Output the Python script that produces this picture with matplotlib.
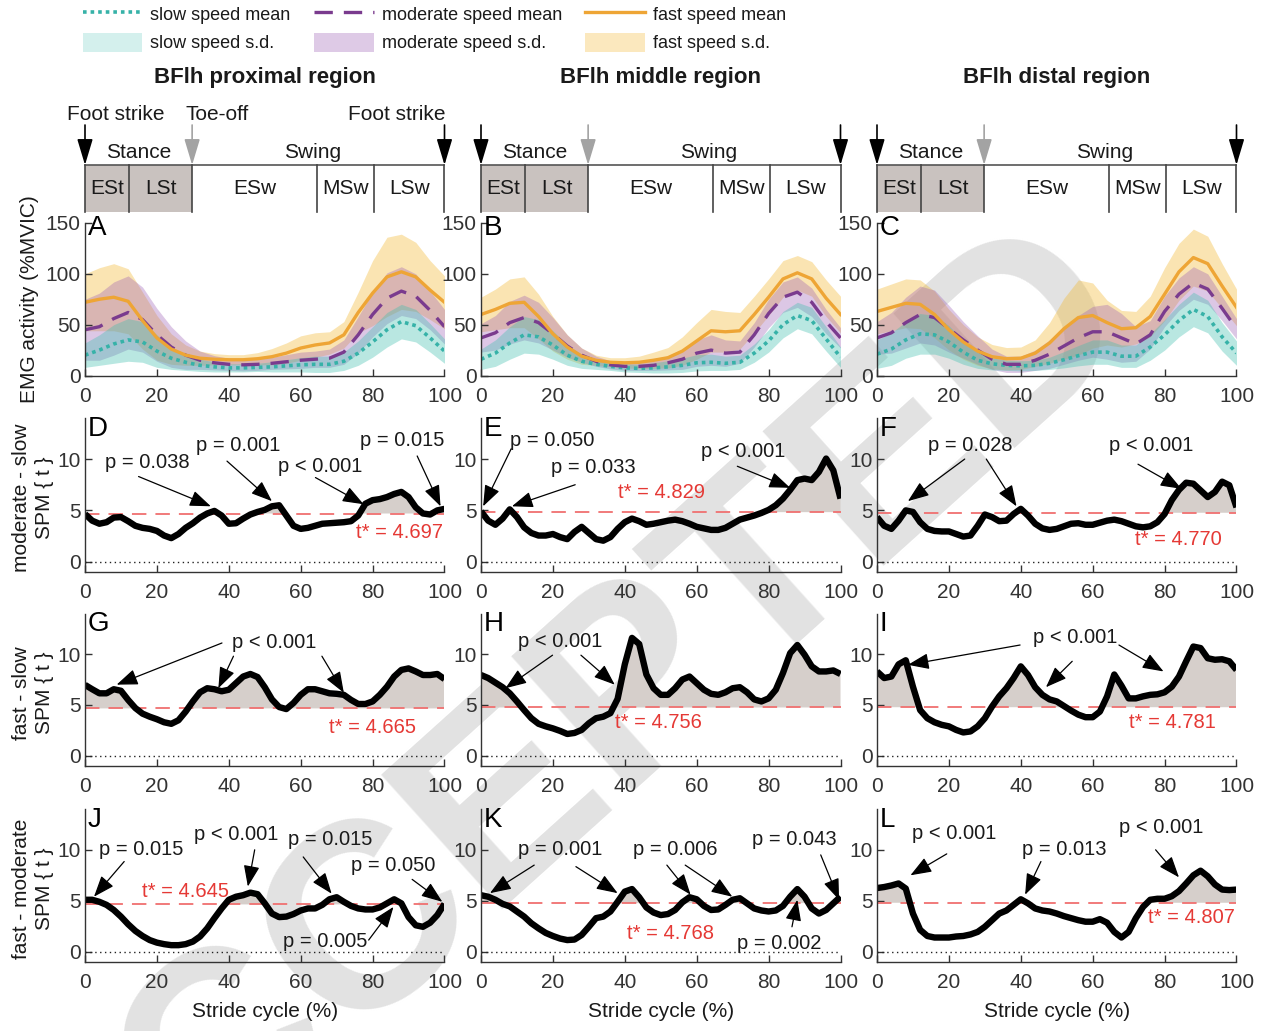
import numpy as np
import matplotlib
matplotlib.use('Agg')
import matplotlib.pyplot as plt
from matplotlib.lines import Line2D
from matplotlib.patches import Patch, Rectangle

plt.rcParams['font.family'] = ['Liberation Sans', 'DejaVu Sans']

# ---------------- data ----------------
regions = ['BFlh proximal region', 'BFlh middle region', 'BFlh distal region']

# gait phases (% stride)
phase_edges = [0, 12.3, 29.8, 64.6, 80.4, 100]
phase_names = ['ESt', 'LSt', 'ESw', 'MSw', 'LSw']
toe_off = 29.8

# EMG (%MVIC), sampled every 4 % of the stride
emg_x = np.arange(0, 101, 4)

slow_mean_prox = [20, 25, 31, 35, 33, 24, 17, 13, 10, 8.5, 7.5, 7.5, 8, 8.5, 9.5, 10.5, 11, 11, 14, 22, 33, 45, 53, 49, 37, 24]
slow_sd_prox = [12, 15, 19, 21, 20, 16, 11, 8, 6, 5, 4, 4, 4, 5, 6, 7, 8, 8, 9, 12, 15, 17, 17, 16, 14, 12]
mod_mean_prox = [45, 48, 56, 62, 55, 40, 28, 20, 15, 12.5, 11, 10.5, 11, 12, 13.5, 15, 16, 17, 23, 40, 60, 76, 83, 78, 64, 48]
mod_sd_prox = [30, 33, 36, 36, 32, 26, 20, 14, 9, 7, 6, 6, 6, 6, 7, 8, 8, 9, 12, 18, 22, 25, 24, 22, 19, 17]
fast_mean_prox = [72, 75, 77, 73, 54, 37, 26, 20, 17, 16, 15.5, 15.5, 16.5, 18.5, 22, 27, 30, 32, 40, 62, 81, 97, 102, 97, 84, 72]
fast_sd_prox = [28, 31, 33, 32, 28, 22, 15, 10, 7, 5.5, 5, 5, 6, 8, 10, 12, 12, 11, 13, 20, 32, 39, 37, 34, 29, 26]

slow_mean_mid = [16, 22, 32, 40, 38, 30, 20, 14, 11, 9, 7.5, 7, 7.5, 8.5, 10, 12.5, 13, 12, 13, 22, 34, 50, 59, 54, 36, 18]
slow_sd_mid = [10, 13, 16, 18, 17, 14, 10, 7, 5, 4, 4, 4, 5, 6, 7, 8, 8, 7, 7, 9, 11, 13, 13, 13, 12, 10]
mod_mean_mid = [37, 42, 52, 57, 52, 41, 29, 20, 14, 10.5, 9, 9, 10, 12.5, 16, 22, 25, 22, 23, 40, 61, 77, 82, 72, 53, 37]
mod_sd_mid = [14, 17, 21, 22, 20, 16, 11, 7, 5, 4, 4, 4, 5, 7, 10, 13, 15, 13, 11, 12, 14, 15, 15, 14, 12, 10]
fast_mean_mid = [60, 65, 71, 72, 58, 41, 28, 19, 15, 13, 12.5, 13, 15, 17.5, 24, 34, 44, 43, 44, 60, 77, 95, 101, 95, 76, 60]
fast_sd_mid = [17, 20, 24, 25, 22, 17, 12, 8, 5, 4.5, 5, 6, 8, 10, 14, 18, 21, 20, 18, 18, 18, 18, 17, 17, 18, 18]

slow_mean_dist = [21, 26, 35, 41, 40, 33, 23, 15, 11.5, 10, 9.5, 10, 12, 15.5, 19.5, 23, 23, 19, 19, 28, 40, 54, 65, 58, 38, 22]
slow_sd_dist = [14, 16, 18, 20, 19, 16, 12, 8, 6, 5, 5, 5, 6, 8, 10, 12, 12, 11, 11, 13, 15, 16, 17, 16, 14, 12]
mod_mean_dist = [37, 42, 52, 60, 57, 46, 35, 25, 16, 11, 11, 15, 21, 29, 37, 43, 43, 37, 31, 40, 63, 80, 91, 85, 66, 46]
mod_sd_dist = [16, 20, 25, 28, 27, 23, 18, 14, 10, 8, 8, 10, 14, 18, 22, 25, 27, 24, 17, 14, 15, 16, 16, 15, 12, 10]
fast_mean_dist = [63, 67, 71, 70, 60, 45, 33, 24, 18.5, 16.5, 17, 22, 32, 46, 57, 59, 52, 46, 47, 58, 80, 102, 116, 110, 88, 67]
fast_sd_dist = [22, 23, 24, 24, 23, 20, 17, 14, 12, 11, 11, 13, 20, 30, 37, 32, 22, 18, 16, 20, 26, 28, 28, 27, 22, 18]

emg = [
    {'slow': (slow_mean_prox, slow_sd_prox), 'moderate': (mod_mean_prox, mod_sd_prox), 'fast': (fast_mean_prox, fast_sd_prox)},
    {'slow': (slow_mean_mid, slow_sd_mid), 'moderate': (mod_mean_mid, mod_sd_mid), 'fast': (fast_mean_mid, fast_sd_mid)},
    {'slow': (slow_mean_dist, slow_sd_dist), 'moderate': (mod_mean_dist, mod_sd_dist), 'fast': (fast_mean_dist, fast_sd_dist)},
]

# SPM{t} curves, sampled every 2 % of the stride
spm_x = np.arange(0, 101, 2)

spm_D = [4.65, 4.0, 3.7, 3.85, 4.3, 4.35, 3.95, 3.5, 3.3, 3.2, 3.0, 2.55, 2.3, 2.7, 3.3, 3.75, 4.3, 4.7, 4.95, 4.5, 3.7, 3.75, 4.2, 4.6, 4.85, 5.05, 5.4, 5.5, 4.5, 3.5, 3.2, 3.3, 3.5, 3.7, 3.75, 3.8, 3.85, 3.95, 4.5, 5.65, 6.0, 6.1, 6.3, 6.6, 6.8, 6.3, 5.3, 4.7, 4.6, 5.0, 5.15]
spm_E = [4.9, 4.0, 3.6, 4.2, 5.1, 4.35, 3.35, 2.8, 2.55, 2.55, 2.7, 2.4, 2.2, 2.9, 3.4, 2.8, 2.2, 2.05, 2.4, 3.2, 3.85, 4.2, 3.95, 3.6, 3.7, 3.85, 4.0, 4.1, 3.95, 3.7, 3.4, 3.25, 3.1, 3.1, 3.3, 3.7, 4.1, 4.3, 4.5, 4.75, 5.05, 5.5, 6.15, 7.0, 7.95, 8.1, 7.95, 8.75, 10.05, 8.9, 6.15]
spm_F = [4.35, 3.5, 3.2, 4.0, 5.0, 4.85, 3.85, 3.2, 3.0, 2.95, 2.95, 2.7, 2.45, 2.55, 3.5, 4.6, 4.35, 3.95, 4.0, 4.65, 5.15, 4.5, 3.7, 3.25, 3.1, 3.2, 3.45, 3.7, 3.75, 3.6, 3.6, 3.8, 4.0, 4.1, 3.95, 3.7, 3.45, 3.35, 3.45, 3.85, 4.65, 6.0, 7.0, 7.7, 7.6, 6.95, 6.3, 6.8, 7.8, 7.45, 5.3]
spm_G = [6.98, 6.55, 6.15, 6.15, 6.55, 6.4, 5.5, 4.7, 4.15, 3.85, 3.6, 3.3, 3.15, 3.5, 4.35, 5.35, 6.25, 6.65, 6.55, 6.35, 6.5, 7.15, 7.8, 8.05, 7.75, 6.75, 5.55, 4.8, 4.6, 5.2, 6.0, 6.55, 6.55, 6.35, 6.15, 6.1, 6.0, 5.5, 5.1, 5.1, 5.35, 6.0, 6.8, 7.8, 8.45, 8.6, 8.3, 7.95, 7.95, 8.05, 7.55]
spm_H = [7.95, 7.65, 7.2, 6.75, 6.15, 5.35, 4.5, 3.7, 3.15, 2.9, 2.7, 2.45, 2.15, 2.25, 2.55, 3.2, 3.7, 3.85, 4.2, 5.6, 9.0, 11.6, 11.0, 8.0, 6.65, 6.0, 6.0, 6.65, 7.5, 7.8, 7.15, 6.5, 6.1, 6.0, 6.25, 6.65, 6.75, 6.25, 5.55, 5.35, 5.65, 6.5, 8.15, 10.1, 10.9, 9.95, 8.8, 8.3, 8.3, 8.4, 8.05]
spm_I = [8.3, 7.65, 7.8, 9.0, 9.4, 6.8, 4.5, 3.7, 3.3, 3.05, 2.9, 2.55, 2.3, 2.4, 2.9, 3.7, 4.85, 5.85, 6.65, 7.65, 8.8, 7.95, 6.75, 6.0, 5.55, 5.35, 4.9, 4.45, 4.05, 3.8, 3.8, 4.35, 5.85, 8.0, 6.9, 5.65, 5.65, 5.85, 6.0, 6.05, 6.25, 6.8, 7.8, 9.3, 10.75, 10.6, 9.6, 9.45, 9.5, 9.3, 8.45]
spm_J = [5.1, 5.1, 4.9, 4.6, 4.1, 3.45, 2.7, 2.05, 1.55, 1.15, 0.9, 0.75, 0.65, 0.65, 0.75, 1.0, 1.5, 2.3, 3.3, 4.25, 5.1, 5.4, 5.55, 5.8, 5.65, 4.75, 3.75, 3.4, 3.45, 3.7, 4.05, 4.25, 4.25, 4.6, 5.15, 5.35, 4.9, 4.5, 4.25, 4.15, 4.15, 4.35, 4.75, 5.15, 4.75, 3.4, 2.6, 2.45, 2.85, 3.6, 4.7]
spm_K = [5.55, 5.4, 5.1, 4.7, 4.45, 3.95, 3.45, 2.8, 2.3, 1.85, 1.55, 1.3, 1.15, 1.2, 1.65, 2.45, 3.3, 3.45, 3.95, 4.9, 5.9, 6.15, 5.35, 4.35, 3.85, 3.6, 3.7, 4.1, 4.85, 5.35, 5.15, 4.5, 4.1, 4.15, 4.6, 5.1, 5.25, 4.75, 4.25, 4.05, 3.95, 4.05, 4.5, 5.4, 6.15, 5.4, 4.25, 3.75, 4.1, 4.75, 5.4]
spm_L = [6.25, 6.35, 6.5, 6.7, 6.2, 3.75, 2.15, 1.55, 1.4, 1.4, 1.4, 1.5, 1.55, 1.7, 1.95, 2.45, 3.1, 3.75, 4.05, 4.6, 5.15, 4.75, 4.25, 4.05, 3.95, 3.75, 3.5, 3.3, 3.1, 2.95, 2.95, 3.2, 2.85, 1.95, 1.4, 1.95, 3.3, 4.4, 5.1, 5.2, 5.2, 5.45, 5.95, 6.7, 7.5, 7.95, 7.4, 6.6, 6.1, 6.05, 6.1]

spm_curves = [[spm_D, spm_E, spm_F], [spm_G, spm_H, spm_I], [spm_J, spm_K, spm_L]]
t_crit = [[4.697, 4.829, 4.770], [4.665, 4.756, 4.781], [4.645, 4.768, 4.807]]
contrasts = ['moderate - slow', 'fast - slow', 'fast - moderate']

# p-value notes: (label, text x, text y, [(tail x, tail y, tip x, tip y), ...])
notes = [
    [
        [('p = 0.038', 17.2, 9.7, [(14.9, 8.3, 35.0, 5.4)]),
         ('p = 0.001', 42.7, 11.3, [(39.5, 9.8, 52.0, 5.9)]),
         ('p < 0.001', 65.5, 9.3, [(64.1, 8.2, 77.5, 5.6)]),
         ('p = 0.015', 88.2, 11.8, [(92.4, 10.3, 98.9, 5.4)])],
        [('p = 0.050', 19.8, 11.8, [(8.4, 11.0, 0.6, 5.4)]),
         ('p = 0.033', 31.2, 9.2, [(26.2, 7.5, 8.6, 5.4)]),
         ('p < 0.001', 73.0, 10.7, [(71.3, 9.3, 86.0, 7.2)])],
        [('p = 0.028', 25.8, 11.3, [(24.4, 10.0, 8.6, 5.9), (30.4, 10.0, 38.8, 5.4)]),
         ('p < 0.001', 76.3, 11.3, [(72.6, 9.5, 84.7, 7.1)])],
    ],
    [
        [('p < 0.001', 52.5, 11.1, [(38.1, 11.1, 8.8, 7.0), (41.3, 9.8, 37.1, 6.65), (65.9, 9.8, 72.0, 6.2)])],
        [('p < 0.001', 22.0, 11.2, [(19.9, 9.9, 6.8, 6.65), (27.8, 9.9, 37.2, 7.0)])],
        [('p < 0.001', 55.0, 11.6, [(39.8, 10.9, 8.6, 8.95), (54.3, 9.3, 47.0, 6.75), (67.3, 10.9, 79.7, 8.3)])],
    ],
    [
        [('p = 0.015', 15.5, 10.0, [(10.9, 8.85, 2.5, 5.4)]),
         ('p < 0.001', 42.1, 11.5, [(47.2, 10.0, 45.3, 6.4)]),
         ('p = 0.015', 68.2, 11.0, [(60.7, 9.3, 68.6, 5.7)]),
         ('p = 0.050', 85.8, 8.5, [(91.0, 7.1, 99.4, 4.9)]),
         ('p = 0.005', 66.8, 1.0, [(78.9, 1.15, 85.8, 4.4)])],
        [('p = 0.001', 22.0, 10.0, [(14.8, 8.5, 2.5, 5.75), (26.4, 8.35, 38.0, 5.75)]),
         ('p = 0.006', 53.9, 10.0, [(51.7, 8.5, 58.3, 5.6), (56.8, 8.5, 69.9, 5.4)]),
         ('p = 0.043', 87.2, 11.0, [(94.5, 9.5, 99.6, 5.1)]),
         ('p = 0.002', 82.9, 0.8, [(86.5, 2.45, 88.0, 5.1)])],
        [('p < 0.001', 21.6, 11.6, [(19.4, 9.6, 9.3, 7.5)]),
         ('p = 0.013', 52.1, 10.0, [(45.6, 8.85, 41.2, 5.6)]),
         ('p < 0.001', 79.0, 12.2, [(77.5, 10.0, 84.0, 7.3)])],
    ],
]
tstar_pos = [[(87.6, 2.85), (50.2, 6.7), (83.7, 2.15)],
             [(80.0, 2.75), (49.3, 3.3), (82.3, 3.25)],
             [(27.9, 5.9), (52.6, 1.75), (87.5, 3.4)]]

# ---------------- style ----------------
speeds = ['fast', 'moderate', 'slow']
line_col = {'slow': '#36b2a8', 'moderate': '#7a3b8e', 'fast': '#eea535'}
fill_col = {'slow': '#3dbfae', 'moderate': '#9b5cb4', 'fast': '#f2b62a'}
fill_alpha = {'slow': 0.36, 'moderate': 0.34, 'fast': 0.36}
line_sty = {'slow': (0, (1, 1.1)), 'moderate': (0, (5.5, 3.3)), 'fast': '-'}
line_w = {'slow': 2.6, 'moderate': 2.4, 'fast': 2.4}
txt_col = '#1a1a1a'
ax_col = '#333333'
red = '#e53935'

W, H = 1266, 1031
fig = plt.figure(figsize=(W / 100, H / 100), dpi=100)


def px_axes(left, top, width, height):
    return fig.add_axes([left / W, 1 - (top + height) / H, width / W, height / H])


def style_axes(ax):
    for s in ['top', 'right']:
        ax.spines[s].set_visible(False)
    for s in ['left', 'bottom']:
        ax.spines[s].set_color(ax_col)
        ax.spines[s].set_linewidth(1.0)
    ax.set_facecolor('none')
    ax.set_xlim(0, 100)
    ax.set_xticks([0, 20, 40, 60, 80, 100])
    ax.tick_params(direction='in', length=5, width=1, labelsize=15, colors=ax_col)
    ax.tick_params(axis='x', pad=8)
    ax.tick_params(axis='y', pad=3)


col_left = [85, 481, 877]
col_w = 359.5
gait_row = (95, 120)
emg_row = (223, 152.5)
spm_rows = [(418, 154), (613.5, 152.5), (809, 153)]
letters = ['ABC', 'DEF', 'GHI', 'JKL']

for c in range(3):
    # ----- gait phase bar -----
    g = px_axes(col_left[c], gait_row[0], col_w, gait_row[1])
    g.set_xlim(0, 100)
    g.set_ylim(0, 120)
    g.axis('off')
    for i, name in enumerate(phase_names):
        x0, x1 = phase_edges[i], phase_edges[i + 1]
        if x1 <= toe_off + 0.01:
            g.add_patch(Rectangle((x0, 3), x1 - x0, 47, fc='#c9c2bf', ec='none'))
        g.text((x0 + x1) / 2, 27, name, ha='center', va='center', fontsize=15, color=txt_col)
    g.plot([0, 100], [50, 50], color='#555555', lw=1.2, clip_on=False)
    for e in phase_edges:
        g.plot([e, e], [3, 50], color='#444444', lw=1.2, clip_on=False)
    g.text(toe_off / 2, 62, 'Stance', ha='center', va='center', fontsize=15, color=txt_col)
    g.text((toe_off + 100) / 2 - 1.5, 63, 'Swing', ha='center', va='center', fontsize=15, color=txt_col)
    for xe, colr in [(0, 'black'), (toe_off, '#a3a3a3'), (100, 'black')]:
        g.annotate('', xy=(xe, 50), xytext=(xe, 90), annotation_clip=False,
                   arrowprops=dict(arrowstyle='-|>,head_length=1.0,head_width=0.3', mutation_scale=16,
                                   color=colr, lw=1.2, shrinkA=0, shrinkB=0))
    if c == 0:
        g.text(8.6, 101, 'Foot strike', ha='center', va='center', fontsize=15, color=txt_col)
        g.text(36.8, 101, 'Toe-off', ha='center', va='center', fontsize=15, color=txt_col)
        g.text(86.6, 101, 'Foot strike', ha='center', va='center', fontsize=15, color=txt_col)

    # ----- EMG envelopes -----
    ax = px_axes(col_left[c], emg_row[0], col_w, emg_row[1])
    style_axes(ax)
    for sp in speeds:
        m, s = (np.array(v, dtype=float) for v in emg[c][sp])
        ax.fill_between(emg_x, m - s, m + s, color=fill_col[sp], alpha=fill_alpha[sp], lw=0)
    for sp in ['slow', 'moderate', 'fast']:
        m = np.array(emg[c][sp][0], dtype=float)
        ax.plot(emg_x, m, color=line_col[sp], ls=line_sty[sp], lw=line_w[sp])
    ax.set_ylim(0, 150)
    ax.set_yticks([0, 50, 100, 150])
    ax.text(0.008, 0.965, letters[0][c], transform=ax.transAxes, ha='left', va='center',
            fontsize=20, color='black')

    # ----- SPM{t} rows -----
    for r in range(3):
        top, hgt = spm_rows[r]
        ax = px_axes(col_left[c], top, col_w, hgt)
        style_axes(ax)
        t = np.array(spm_curves[r][c], dtype=float)
        tc = t_crit[r][c]
        ax.fill_between(spm_x, tc, t, where=t > tc, interpolate=True, color='#d6cfcb', lw=0)
        ax.axhline(tc, color='#f07070', ls=(0, (8, 5)), lw=1.3)
        ax.axhline(0, color='#222222', ls=(0, (1, 2.5)), lw=1.0)
        ax.plot(spm_x, t, color='black', lw=4.6, solid_capstyle='butt', solid_joinstyle='round')
        ax.set_ylim(-1, 14)
        ax.set_yticks([0, 5, 10])
        tx, ty = tstar_pos[r][c]
        ax.text(tx, ty, f't* = {tc:.3f}', ha='center', va='center', fontsize=14.5, color=red)
        for label, nx, ny, arrows in notes[r][c]:
            ax.text(nx, ny, label, ha='center', va='center', fontsize=14.5, color=txt_col)
            for x0, y0, x1, y1 in arrows:
                ax.annotate('', xy=(x1, y1), xytext=(x0, y0), annotation_clip=False,
                            arrowprops=dict(arrowstyle='-|>,head_length=1.0,head_width=0.38',
                                            mutation_scale=13, color='black', lw=0.9,
                                            shrinkA=0, shrinkB=0))
        ax.text(0.008, 0.93, letters[r + 1][c], transform=ax.transAxes, ha='left', va='center',
                fontsize=20, color='black')
        if r == 2:
            ax.set_xlabel('Stride cycle (%)', fontsize=15, color=txt_col, labelpad=7)

    # column title
    fig.text((col_left[c] + col_w / 2) / W, 1 - 77 / H, regions[c], ha='center', va='center',
             fontsize=16, fontweight='bold', color=txt_col)

# y-axis labels
fig.text(30 / W, 1 - 299 / H, 'EMG activity (%MVIC)', rotation=90, ha='center', va='center',
         fontsize=15, color=txt_col)
for r, (top, hgt) in enumerate(spm_rows):
    fig.text(33 / W, 1 - (top + hgt / 2 + 3) / H, contrasts[r] + '\nSPM { t }', rotation=90,
             ha='center', va='center', fontsize=15, color=txt_col, multialignment='center',
             linespacing=1.3)

# legend
handles = [
    Line2D([], [], color=line_col['slow'], ls=line_sty['slow'], lw=line_w['slow']),
    Patch(facecolor=fill_col['slow'], alpha=0.22, edgecolor='none'),
    Line2D([], [], color=line_col['moderate'], ls=line_sty['moderate'], lw=line_w['moderate']),
    Patch(facecolor=fill_col['moderate'], alpha=0.32, edgecolor='none'),
    Line2D([], [], color=line_col['fast'], ls=line_sty['fast'], lw=line_w['fast']),
    Patch(facecolor=fill_col['fast'], alpha=0.3, edgecolor='none'),
]
labels = ['slow speed mean', 'slow speed s.d.', 'moderate speed mean', 'moderate speed s.d.',
          'fast speed mean', 'fast speed s.d.']
fig.legend(handles, labels, loc='upper left', bbox_to_anchor=(78 / W, 1.0), ncol=3, frameon=False,
           fontsize=13, handlelength=3.3, handleheight=1.3, handletextpad=0.45, columnspacing=1.3,
           labelspacing=0.45, borderaxespad=0, borderpad=0.25, labelcolor=txt_col)

# watermark
fig.text(0.44, 0.26, 'ACCEPTED', rotation=42, ha='center', va='center', fontsize=190,
         fontweight='bold', color='#e2e2e2', zorder=-10)

fig.savefig('out.png', dpi=100, facecolor='white')
